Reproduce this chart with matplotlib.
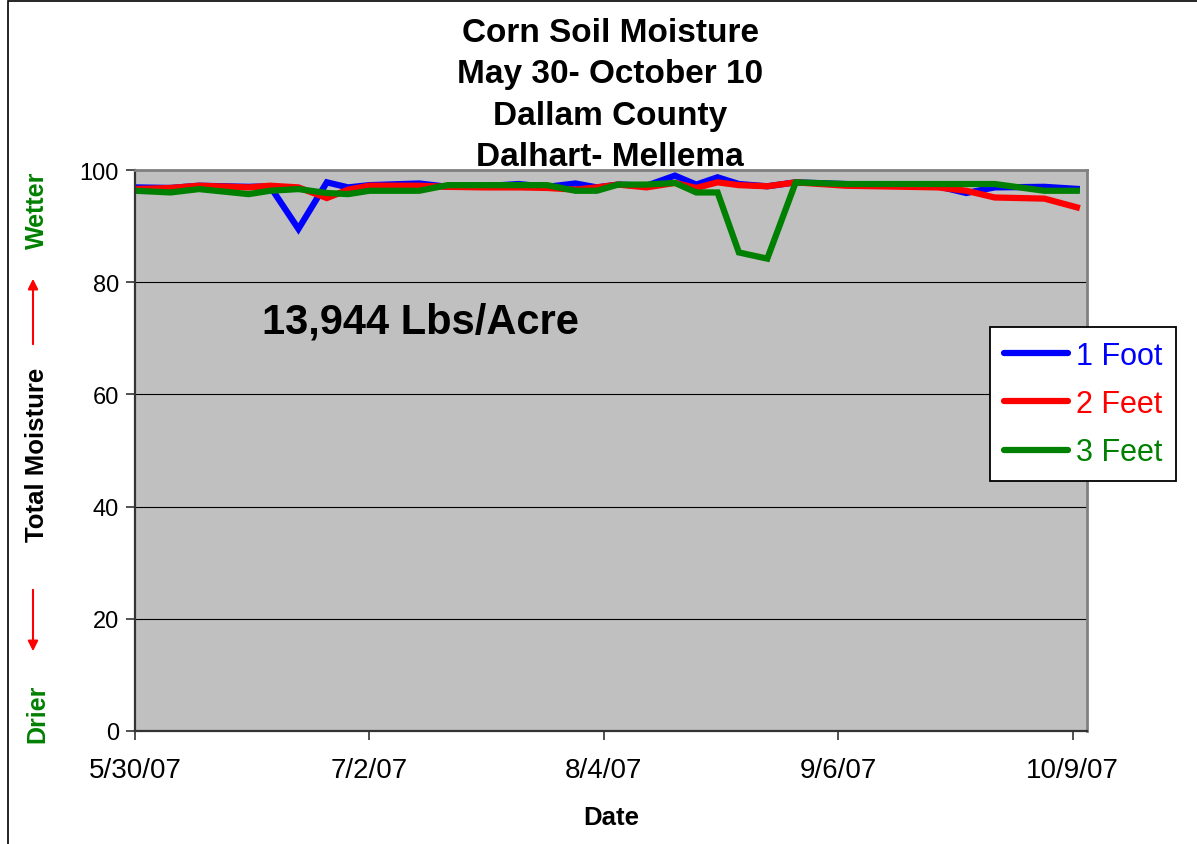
import datetime as dt
import matplotlib
matplotlib.use('Agg')
import matplotlib.pyplot as plt
from matplotlib.patches import Rectangle, FancyArrowPatch

plt.rcParams['font.family'] = ['Liberation Sans', 'DejaVu Sans']

# sampling dates (2007)
dates = ['5/30', '6/4', '6/8', '6/15', '6/18', '6/22', '6/26', '6/29', '7/2', '7/9',
         '7/13', '7/18', '7/23', '7/27', '7/31', '8/3', '8/6', '8/10', '8/14', '8/17',
         '8/20', '8/23', '8/27', '8/31', '9/7', '9/20', '9/24', '9/28', '10/5', '10/10']

foot1 = [96.9, 96.8, 97.2, 97.0, 97.1, 89.5, 97.8, 96.9, 97.3, 97.6,
         97.0, 97.1, 97.5, 97.0, 97.6, 96.9, 97.4, 97.2, 99.0, 97.4,
         98.7, 97.5, 97.1, 97.8, 97.5, 97.1, 95.9, 96.9, 97.0, 96.6]
feet2 = [96.6, 96.8, 97.2, 96.9, 97.2, 96.9, 95.0, 96.5, 97.2, 97.2,
         97.0, 96.9, 96.9, 96.8, 96.5, 96.9, 97.4, 96.9, 97.7, 96.8,
         97.8, 97.3, 97.1, 97.8, 97.2, 96.9, 96.3, 95.1, 94.9, 93.2]
feet3 = [96.3, 96.0, 96.6, 95.7, 96.3, 96.6, 95.9, 95.7, 96.3, 96.3,
         97.3, 97.3, 97.3, 97.3, 96.3, 96.3, 97.4, 97.4, 97.7, 96.0,
         96.0, 85.3, 84.2, 97.8, 97.5, 97.5, 97.5, 97.5, 96.3, 96.3]

series_names = ['1 Foot', '2 Feet', '3 Feet']
series_colors = ['#0000FF', '#FF0000', '#008000']

x_ticks = ['5/30', '7/2', '8/4', '9/6', '10/9']
y_ticks = [0, 20, 40, 60, 80, 100]


def to_date(s):
    m, d = s.split('/')
    return dt.date(2007, int(m), int(d))


W, H = 1197, 845
fig = plt.figure(figsize=(W / 100, H / 100), dpi=100)

# outer chart border (only left/top are inside the picture)
fig.patches.append(Rectangle((8 / W, -0.1), 1.2, 1 - 2 / H + 0.1, transform=fig.transFigure,
                             fill=False, edgecolor='black', linewidth=1.2))

ax = fig.add_axes([135 / W, (H - 732) / H, (1087 - 135) / W, (732 - 171) / H])
ax.set_facecolor('#C0C0C0')

xs = [to_date(d) for d in dates]
for vals, name, col in zip([foot1, feet2, feet3], series_names, series_colors):
    ax.plot(xs, vals, color=col, linewidth=4.5, label=name, solid_joinstyle='miter',
            solid_capstyle='butt')

ax.set_xlim(dt.date(2007, 5, 30), dt.date(2007, 10, 11))
ax.set_ylim(0, 100)
ax.set_yticks(y_ticks)
ax.set_yticklabels([str(v) for v in y_ticks])
tick_dates = [to_date(t) for t in x_ticks]
ax.set_xticks(tick_dates)
ax.set_xticklabels(['{}/{}/{:02d}'.format(d.month, d.day, d.year % 100) for d in tick_dates])

ax.grid(axis='y', color='black', linewidth=0.8)
ax.set_axisbelow(True)
ax.tick_params(axis='both', direction='out', length=6.5, width=1.2, color='#333333',
               labelcolor='black')
ax.tick_params(axis='y', labelsize=17, pad=5)
ax.tick_params(axis='x', labelsize=20, pad=12)

for side in ['left', 'bottom']:
    ax.spines[side].set_color('#333333')
    ax.spines[side].set_linewidth(1.6)
for side in ['top', 'right']:
    ax.spines[side].set_color('#808080')
    ax.spines[side].set_linewidth(2)

ax.set_xlabel('Date', fontsize=18.5, fontweight='bold', labelpad=16)

# title
title_lines = ['Corn Soil Moisture', 'May 30- October 10', 'Dallam County', 'Dalhart- Mellema']
for i, line in enumerate(title_lines):
    fig.text(610 / W, 1 - (33 + i * 41.5) / H, line, ha='center', va='center',
             fontsize=24, fontweight='bold')

fig.text(420 / W, 1 - 322 / H, '13,944 Lbs/Acre', ha='center', va='center',
         fontsize=30, fontweight='bold')

# y-axis side labels
fig.text(37 / W, 1 - 455 / H, 'Total Moisture', rotation=90, ha='center', va='center',
         fontsize=18.5, fontweight='bold')
fig.text(37 / W, 1 - 210 / H, 'Wetter', rotation=90, ha='center', va='center',
         fontsize=18, fontweight='bold', color='#008000')
fig.text(37 / W, 1 - 714 / H, 'Drier', rotation=90, ha='center', va='center',
         fontsize=18, fontweight='bold', color='#008000')
fig.patches.append(FancyArrowPatch((33 / W, 1 - 348 / H), (33 / W, 1 - 277 / H),
                                   transform=fig.transFigure, arrowstyle='-|>',
                                   mutation_scale=15, color='red', linewidth=1.5))
fig.patches.append(FancyArrowPatch((33 / W, 1 - 588 / H), (33 / W, 1 - 655 / H),
                                   transform=fig.transFigure, arrowstyle='-|>',
                                   mutation_scale=15, color='red', linewidth=1.5))

leg = fig.legend(loc='upper left', bbox_to_anchor=(990 / W, 1 - 328 / H), fontsize=22,
                 frameon=True, fancybox=False, framealpha=1, edgecolor='black',
                 labelcolor='linecolor', handlelength=2.1, handletextpad=0.25,
                 labelspacing=0.6, borderpad=0.45, borderaxespad=0)
leg.get_frame().set_linewidth(1.3)
for h in leg.get_lines():
    h.set_solid_capstyle('round')

fig.savefig('out.png', dpi=100)
